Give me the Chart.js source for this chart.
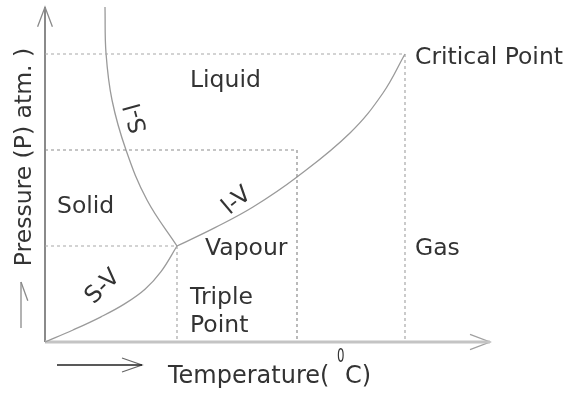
<!DOCTYPE html>
<html>
<head>
<meta charset="utf-8">
<script src="https://cdn.jsdelivr.net/npm/chart.js@4/dist/chart.umd.min.js"></script>
<style>
html,body{margin:0;padding:0;background:#fff;}
#wrap{width:586px;height:403px;position:relative;}
</style>
</head>
<body>
<div id="wrap"><canvas id="c" width="586" height="403"></canvas></div>
<script>
// ---- data (arbitrary temperature / pressure units) ----
const axisMaxT = 111.25;
const axisMaxP = 83.5;
const triplePoint = {x: 33, y: 24};
const criticalPoint = {x: 90, y: 72};
const guidePoint = {x: 63, y: 48};

// Solid-Vapour curve (origin to triple point)
const svT = [0, 7, 14, 20, 25, 29, 33];
const svP = [0, 3, 6.3, 9.6, 13.2, 17.6, 24];
// Liquid-Vapour curve (triple point to critical point)
const lvT = [33, 42.5, 52, 63, 76.25, 84.5, 90];
const lvP = [24, 28.6, 33.75, 41.25, 52.25, 62.25, 72];
// Solid-Liquid curve (top down to triple point)
const slT = [15, 15.25, 16.75, 20.25, 25.5, 33];
const slP = [83.75, 72.25, 60.5, 48, 35.5, 24];

const regionNames = ['Liquid', 'Critical Point', 'Solid', 'Vapour', 'Gas', 'Triple', 'Point'];
const regionAnchorT = [36.25, 92.5, 3, 40, 92.5, 36.25, 36.25];
const regionAnchorP = [63.75, 69.5, 32.25, 21.75, 21.75, 9.5, 2.5];

const curveNames = ['S-l', 'S-V', 'l-V'];
const curveAnchorT = [23, 14.5, 48];
const curveAnchorP = [56, 13.75, 35.25];
const curveAngles = [-105, -45, -40];

const xTitle = 'Temperature(';
const xTitleUnit = 'C)';
const xTitleSup = '0';
const yTitle = 'Pressure (P) atm. )';

// ---- build ----
const pts = (xs, ys) => xs.map((v, i) => ({x: v, y: ys[i]}));
const curveColor = '#9a9a9a';
const dashColor = '#a8a8a8';

function lineDs(data, color, width, dash, tension) {
  return {
    data: data, showLine: true, pointRadius: 0, borderColor: color,
    borderWidth: width, borderDash: dash || [], tension: tension || 0,
    fill: false, clip: false
  };
}

const datasets = [
  // dashed guides
  lineDs([{x: 0, y: criticalPoint.y}, {x: criticalPoint.x, y: criticalPoint.y}, {x: criticalPoint.x, y: 0}], dashColor, 1.2, [3, 3]),
  lineDs([{x: 0, y: guidePoint.y}, {x: guidePoint.x, y: guidePoint.y}, {x: guidePoint.x, y: 0}], '#8c8c8c', 1.2, [3, 3]),
  lineDs([{x: 0, y: triplePoint.y}, {x: triplePoint.x, y: triplePoint.y}, {x: triplePoint.x, y: 0}], dashColor, 1.2, [3, 3]),
  // phase curves
  lineDs(pts(svT, svP), curveColor, 1.3, null, 0.4),
  lineDs(pts(lvT, lvP), curveColor, 1.3, null, 0.4),
  lineDs(pts(slT, slP), curveColor, 1.3, null, 0.4),
  // axes
  lineDs([{x: 0, y: 0}, {x: axisMaxT, y: 0}], '#c4c4c4', 3),
  lineDs([{x: axisMaxT - 5, y: 1.9}, {x: axisMaxT, y: 0}, {x: axisMaxT - 5, y: -1.9}], '#a0a0a0', 1.3),
  lineDs([{x: 0, y: 0}, {x: 0, y: 83.75}], '#8a8a8a', 2),
  lineDs([{x: -1.85, y: 78.8}, {x: 0, y: 83.75}, {x: 1.85, y: 78.8}], '#8a8a8a', 1.3),
  // side arrows
  lineDs([{x: -6, y: 3.5}, {x: -6, y: 15}], '#8a8a8a', 1.3),
  lineDs([{x: -7.6, y: 10.3}, {x: -6, y: 15}, {x: -4.3, y: 10.3}], '#8a8a8a', 1.3),
  lineDs([{x: 3, y: -5.75}, {x: 24.25, y: -5.75}], '#222', 1.6),
  lineDs([{x: 19.25, y: -4}, {x: 24.25, y: -5.75}, {x: 19.25, y: -7.5}], '#666', 1.2)
];

const FONT = '"DejaVu Sans", sans-serif';
const TEXT = '#333333';

const textPlugin = {
  id: 'texts',
  afterDatasetsDraw(chart) {
    const ctx = chart.ctx;
    const xs = chart.scales.x, ys = chart.scales.y;
    ctx.save();
    ctx.fillStyle = TEXT;
    ctx.textBaseline = 'alphabetic';
    ctx.font = '23.5px ' + FONT;
    ctx.textAlign = 'left';
    regionNames.forEach((n, i) => {
      ctx.fillText(n, xs.getPixelForValue(regionAnchorT[i]), ys.getPixelForValue(regionAnchorP[i]));
    });
    ctx.textAlign = 'center';
    ctx.textBaseline = 'middle';
    curveNames.forEach((n, i) => {
      ctx.save();
      ctx.translate(xs.getPixelForValue(curveAnchorT[i]), ys.getPixelForValue(curveAnchorP[i]));
      ctx.rotate(curveAngles[i] * Math.PI / 180);
      ctx.fillText(n, 0, 0);
      ctx.restore();
    });
    // x title
    ctx.textBaseline = 'alphabetic';
    ctx.textAlign = 'left';
    ctx.font = '24px ' + FONT;
    const bx = xs.getPixelForValue(30.75), by = ys.getPixelForValue(-10.25);
    ctx.fillText(xTitle, bx, by);
    ctx.fillText(xTitleUnit, 345, by);
    ctx.save();
    ctx.translate(337, 362);
    ctx.scale(0.62, 1);
    ctx.font = '19px ' + FONT;
    ctx.fillText(xTitleSup, 0, 0);
    ctx.restore();
    // y title
    ctx.font = '23.5px ' + FONT;
    ctx.save();
    ctx.translate(31, 157);
    ctx.rotate(-Math.PI / 2);
    ctx.textAlign = 'center';
    ctx.fillText(yTitle, 0, 0);
    ctx.restore();
    ctx.restore();
  }
};

new Chart(document.getElementById('c'), {
  type: 'scatter',
  data: {datasets: datasets},
  options: {
    responsive: false,
    animation: false,
    layout: {padding: {left: 45, right: 96, top: 8, bottom: 61}},
    plugins: {legend: {display: false}, tooltip: {enabled: false}, title: {display: false}},
    scales: {
      x: {type: 'linear', min: 0, max: axisMaxT, display: false},
      y: {type: 'linear', min: 0, max: axisMaxP, display: false}
    }
  },
  plugins: [textPlugin]
});
</script>
</body>
</html>
